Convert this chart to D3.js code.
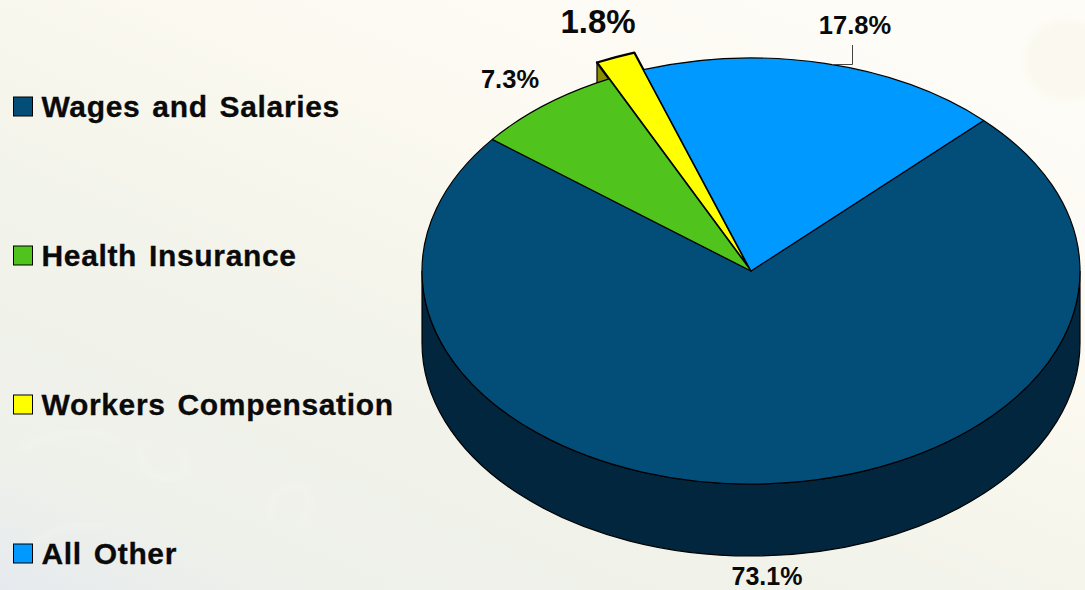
<!DOCTYPE html>
<html>
<head>
  <title>Compensation pie</title>
  <script src="https://d3js.org/d3.v7.min.js"></script>
  <style>
    html, body { margin: 0; padding: 0; width: 100%; height: 100%; overflow: hidden; }
    body { background: #f7f6ef; }
    text { font-family: "Liberation Sans", Arial, Helvetica, sans-serif; font-weight: bold; fill: #0a0a0a; }
  </style>
</head>
<body>
  <div id="chart"></div>
  <script>
    const categories = ["Wages and Salaries", "Health Insurance", "Workers Compensation", "All Other"];
    const shares = [73.1, 7.3, 1.8, 17.8];

    const width = 1085, height = 590;
    const cx = 751, cy = 271, rx = 329, ry = 213, depth = 72;
    const pulled = 1.085; // the yellow slice sticks out past the rim

    const color = d3.scaleOrdinal().domain(categories).range(["#034e78", "#50c41d", "#ffff00", "#0099ff"]);
    const wallColor = "#03263f", yellowWall = "#8c8c00";

    const svg = d3.select("#chart").append("svg").attr("width", width).attr("height", height);

    // washed out background
    const defs = svg.append("defs");
    const bg = defs.append("linearGradient").attr("id", "bg")
      .attr("x1", 0).attr("y1", 1).attr("x2", 0.8).attr("y2", 0);
    bg.append("stop").attr("offset", 0).attr("stop-color", "#e6eaee");
    bg.append("stop").attr("offset", 0.14).attr("stop-color", "#eef1ea");
    bg.append("stop").attr("offset", 0.42).attr("stop-color", "#f2f3ea");
    bg.append("stop").attr("offset", 0.68).attr("stop-color", "#fbf9f0");
    bg.append("stop").attr("offset", 1).attr("stop-color", "#fefcf7");
    defs.append("filter").attr("id", "soft").append("feGaussianBlur").attr("stdDeviation", 3);
    svg.append("rect").attr("width", width).attr("height", height).attr("fill", "url(#bg)");
    svg.append("ellipse").attr("cx", 1066).attr("cy", 60).attr("rx", 42).attr("ry", 42)
      .attr("fill", "#fbf9ef").attr("filter", "url(#soft)");
    // faint scribbles in the backdrop picture
    const scribbles = ["M20,450 Q70,420 120,440", "M140,440 Q135,480 175,478 Q195,470 180,450", "M270,520 Q265,490 300,485 Q320,500 300,525", "M30,545 Q70,520 105,525", "M120,300 H380", "M130,335 H400"];
    svg.selectAll(".scribble").data(scribbles).enter().append("path")
      .attr("class", "scribble")
      .attr("d", d => d)
      .attr("fill", "none").attr("stroke", "#f7f8f3").attr("stroke-width", 5)
      .attr("opacity", 0.35)
      .attr("filter", "url(#soft)");

    // angles run clockwise from the boundary between All Other and Wages
    const pie = d3.pie().sort(null).startAngle(Math.PI / 4).endAngle(Math.PI / 4 + 2 * Math.PI);
    const arcs = pie(shares);
    const arc = d3.arc().innerRadius(0).outerRadius(rx);
    const arcPulled = d3.arc().innerRadius(0).outerRadius(rx * pulled);

    svg.append("path")
      .attr("d", `M${cx - rx},${cy} A${rx},${ry} 0 0 0 ${cx + rx},${cy} L${cx + rx},${cy + depth} A${rx},${ry} 0 0 1 ${cx - rx},${cy + depth} Z`)
      .attr("fill", wallColor).attr("stroke", "#000").attr("stroke-width", 1.2);

    const pieTop = svg.append("g").attr("transform", `translate(${cx},${cy}) scale(1,${ry / rx})`);

    // yellow slice first: wall, then top, so its neighbours overlap the point
    const yellow = arcs[2];
    const tipX = rx * pulled * Math.sin(yellow.startAngle);
    const tipY = -ry * pulled * Math.cos(yellow.startAngle);
    pieTop.append("path")
      .attr("transform", `scale(1,${rx / ry})`)
      .attr("d", `M0,0 L${tipX},${tipY} L${tipX},${tipY + depth} L0,${depth} Z`)
      .attr("fill", yellowWall).attr("stroke", "#000").attr("stroke-width", 1.2);

    const drawSlice = (d, gen) => pieTop.append("path")
      .attr("d", gen(d))
      .attr("fill", color(categories[d.index]))
      .attr("stroke", "#000")
      .attr("stroke-width", d.index === 2 ? 2.2 : 1.2)
      .attr("stroke-linejoin", "round")
      .attr("vector-effect", "non-scaling-stroke");

    drawSlice(yellow, arcPulled);
    arcs.filter(d => d.index !== 2).forEach(d => drawSlice(d, arc));

    // legend
    const legendY = d3.scalePoint().domain(categories).range([106.5, 553.5]);
    const legend = svg.selectAll(".legend").data(categories).enter().append("g")
      .attr("class", "legend")
      .attr("transform", d => `translate(0,${legendY(d)})`);
    legend.append("rect")
      .attr("x", 13.5).attr("y", -9.5).attr("width", 19).attr("height", 19)
      .attr("fill", d => color(d)).attr("stroke", "#000").attr("stroke-width", 1);
    legend.append("text")
      .attr("x", 41.5).attr("y", 10)
      .attr("font-size", 30)
      .attr("letter-spacing", 0.65)
      .attr("word-spacing", 3)
      .attr("stroke", "#0a0a0a").attr("stroke-width", 0.3)
      .text(d => d);

    // percent labels sit where the original put them by hand
    const labelAt = [[767, 584.5, 25], [510, 88, 25.5], [598, 33, 33], [855, 34, 25.5]];
    const fmt = d => d3.format(".1f")(d) + "%";
    svg.selectAll(".pct").data(shares).enter().append("text")
      .attr("class", "pct")
      .attr("text-anchor", "middle")
      .attr("x", (d, i) => labelAt[i][0])
      .attr("y", (d, i) => labelAt[i][1])
      .attr("font-size", (d, i) => labelAt[i][2])
      .text(fmt);

    // leader for the All Other label
    svg.append("path")
      .attr("d", "M852.5,45 V64.5 H832")
      .attr("fill", "none").attr("stroke", "#444").attr("stroke-width", 1);
  </script>
</body>
</html>
